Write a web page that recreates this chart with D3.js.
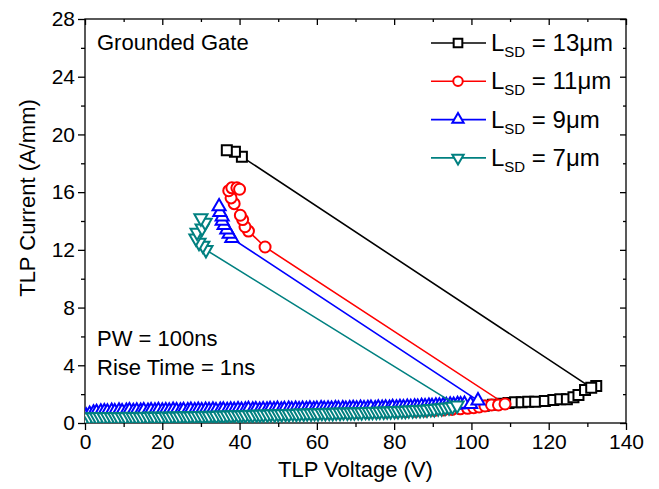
<!DOCTYPE html>
<html>
<head>
<meta charset="utf-8">
<script src="https://cdn.jsdelivr.net/npm/d3@7"></script>
<style>
body { margin: 0; background: #fff; }
text { font-family: "Liberation Sans", Arial, sans-serif; }
</style>
</head>
<body>
<script>
// tick values
var xTicks = [0, 20, 40, 60, 80, 100, 120, 140],
    xMinor = [10, 30, 50, 70, 90, 110, 130],
    yTicks = [0, 4, 8, 12, 16, 20, 24, 28],
    yMinor = [2, 6, 10, 14, 18, 22, 26];

// legend labels
var seriesNames = ['13\u03bcm', '11\u03bcm', '9\u03bcm', '7\u03bcm'];

// L_SD = 13um (squares)
var blackV = [0.4, 2.9, 5.3, 7.9, 10.2, 12.8, 15.1, 17.7, 20.0, 22.6,
    25.1, 27.5, 30.0, 32.4, 35.0, 37.3, 39.9, 42.2, 44.8, 47.1,
    49.7, 52.0, 54.6, 57.0, 59.5, 61.9, 64.4, 66.8, 69.3, 71.7,
    74.2, 76.6, 79.1, 81.5, 84.0, 86.3, 88.9, 91.2, 93.7, 96.1,
    98.5, 100.9, 103.2, 105.6, 107.8, 109.6, 111.3, 113.0, 114.7, 116.5,
    119.0, 121.2, 123.0, 124.7, 126.4, 127.7, 129.4, 132.3, 131.0, 40.6,
    38.8, 36.7];
var blackI = [0.36, 0.42, 0.45, 0.47, 0.49, 0.50, 0.52, 0.53, 0.55, 0.56,
    0.57, 0.58, 0.59, 0.60, 0.62, 0.63, 0.64, 0.65, 0.66, 0.67,
    0.68, 0.70, 0.71, 0.72, 0.73, 0.75, 0.76, 0.77, 0.79, 0.80,
    0.82, 0.83, 0.85, 0.87, 0.89, 0.91, 0.94, 0.97, 1.00, 1.04,
    1.08, 1.13, 1.19, 1.26, 1.33, 1.38, 1.43, 1.43, 1.48, 1.48,
    1.52, 1.59, 1.64, 1.64, 1.78, 1.94, 2.29, 2.56, 2.45, 18.45,
    18.8, 18.9];

// L_SD = 11um (circles)
var redV = [0.5, 3.0, 5.6, 8.1, 10.5, 13.1, 15.6, 18.0, 20.6, 23.1,
    25.5, 28.1, 30.6, 33.0, 35.6, 38.1, 40.5, 43.1, 45.6, 48.0,
    50.6, 53.1, 55.5, 58.1, 60.6, 63.0, 65.6, 68.1, 70.5, 73.1,
    75.6, 78.0, 80.6, 83.1, 85.5, 88.1, 90.4, 92.8, 95.0, 97.1,
    99.0, 100.6, 102.0, 103.5, 105.2, 107.0, 108.7,
    46.6, 42.3, 41.4, 40.8, 40.2, 38.6, 37.8, 37.2, 38.0, 39.3, 40.0];
var redI = [0.33, 0.39, 0.42, 0.44, 0.46, 0.47, 0.49, 0.50, 0.51, 0.52,
    0.53, 0.54, 0.55, 0.56, 0.57, 0.58, 0.59, 0.60, 0.61, 0.62,
    0.63, 0.64, 0.65, 0.66, 0.67, 0.68, 0.69, 0.70, 0.71, 0.72,
    0.74, 0.75, 0.77, 0.79, 0.81, 0.84, 0.87, 0.90, 0.94, 0.98,
    1.02, 1.06, 1.11, 1.18, 1.25, 1.25, 1.32,
    12.2, 13.3, 13.6, 14.1, 14.4, 15.2, 15.6, 16.1, 16.3, 16.3, 16.2];

// L_SD = 9um (up triangles)
var blueV = [0.3, 1.2, 2.2, 3.0, 4.1, 5.0, 5.8, 6.9, 7.7, 8.8,
    9.6, 10.7, 11.5, 12.5, 13.4, 14.4, 15.2, 16.3, 17.1, 18.1,
    19.0, 20.0, 20.9, 21.8, 22.8, 23.7, 24.7, 25.5, 26.6, 27.4,
    28.4, 29.3, 30.2, 31.2, 32.1, 33.1, 33.9, 35.0, 35.8, 36.8,
    37.7, 38.6, 39.6, 40.5, 41.5, 42.3, 43.4, 44.2, 45.2, 46.1,
    47.1, 47.9, 48.9, 49.8, 50.8, 51.6, 52.7, 53.5, 54.5, 55.4,
    56.3, 57.3, 58.2, 59.2, 60.0, 61.1, 61.9, 62.9, 63.8, 64.8,
    65.6, 66.7, 67.5, 68.5, 69.4, 70.3, 71.3, 72.2, 73.2, 74.0,
    75.1, 75.9, 76.9, 77.8, 78.8, 79.6, 80.6, 81.5, 82.4, 83.4,
    84.3, 85.3, 86.1, 87.1, 88.0, 89.0, 89.8, 90.8, 91.7, 92.7,
    93.5, 94.5, 95.4, 96.4, 97.2, 98.2, 99.8, 101.7,
    38.0, 37.3, 36.7, 36.0, 35.5, 35.5, 34.9, 34.7];
var blueI = [0.50, 0.62, 0.70, 0.74, 0.78, 0.80, 0.77, 0.82, 0.79, 0.84,
    0.80, 0.83, 0.86, 0.81, 0.85, 0.82, 0.86, 0.83, 0.87, 0.84,
    0.88, 0.84, 0.87, 0.85, 0.89, 0.86, 0.84, 0.88, 0.86, 0.90,
    0.87, 0.89, 0.86, 0.90, 0.88, 0.91, 0.87, 0.90, 0.92, 0.88,
    0.91, 0.89, 0.93, 0.90, 0.92, 0.95, 0.91, 0.93, 0.90, 0.94,
    0.92, 0.95, 0.93, 0.96, 0.92, 0.95, 0.97, 0.94, 0.96, 0.93,
    0.97, 0.95, 0.98, 0.95, 0.97, 1.00, 0.96, 0.99, 0.97, 1.00,
    0.98, 1.01, 0.97, 1.00, 1.02, 0.99, 1.03, 1.00, 1.02, 1.04,
    1.01, 1.05, 1.03, 1.06, 1.04, 1.08, 1.06, 1.09, 1.07, 1.11,
    1.09, 1.13, 1.11, 1.15, 1.14, 1.18, 1.16, 1.20, 1.19, 1.23,
    1.22, 1.26, 1.25, 1.29, 1.28, 1.32, 1.30, 1.55,
    12.8, 13.1, 13.4, 13.7, 14.0, 14.3, 14.6, 15.0];

// L_SD = 7um (down triangles)
var tealV = [0.2, 1.1, 2.1, 3.0, 3.9, 4.9, 5.8, 6.8, 7.7, 8.6,
    9.6, 10.5, 11.5, 12.4, 13.3, 14.3, 15.2, 16.2, 17.1, 18.0,
    19.0, 19.9, 20.9, 21.8, 22.7, 23.7, 24.6, 25.6, 26.5, 27.4,
    28.4, 29.3, 30.3, 31.2, 32.1, 33.1, 34.0, 35.0, 35.9, 36.8,
    37.8, 38.7, 39.7, 40.6, 41.5, 42.5, 43.4, 44.4, 45.3, 46.2,
    47.2, 48.1, 49.1, 50.0, 50.9, 51.9, 52.8, 53.8, 54.7, 55.6,
    56.6, 57.5, 58.5, 59.4, 60.3, 61.3, 62.2, 63.2, 64.1, 65.0,
    66.0, 66.9, 67.9, 68.8, 69.7, 70.7, 71.6, 72.6, 73.5, 74.4,
    75.4, 76.3, 77.3, 78.2, 79.1, 80.1, 81.0, 82.0, 82.9, 83.8,
    84.8, 85.7, 86.7, 87.6, 88.5, 89.5, 90.4, 91.4, 92.3, 93.2,
    94.2, 95.1, 96.3,
    31.3, 30.5, 29.5, 28.7, 29.0, 30.3, 31.1, 30.0];
var tealI = [0.38, 0.40, 0.42, 0.41, 0.43, 0.42, 0.44, 0.42, 0.43, 0.41,
    0.44, 0.42, 0.45, 0.43, 0.44, 0.42, 0.45, 0.43, 0.46, 0.44,
    0.45, 0.43, 0.46, 0.44, 0.47, 0.45, 0.46, 0.48, 0.46, 0.49,
    0.47, 0.50, 0.48, 0.51, 0.49, 0.52, 0.50, 0.53, 0.51, 0.54,
    0.53, 0.55, 0.54, 0.56, 0.55, 0.58, 0.56, 0.59, 0.58, 0.60,
    0.59, 0.62, 0.60, 0.63, 0.62, 0.64, 0.63, 0.66, 0.64, 0.67,
    0.66, 0.68, 0.67, 0.69, 0.68, 0.71, 0.69, 0.72, 0.70, 0.73,
    0.72, 0.74, 0.73, 0.75, 0.74, 0.76, 0.75, 0.78, 0.77, 0.79,
    0.78, 0.80, 0.80, 0.82, 0.81, 0.84, 0.83, 0.86, 0.85, 0.88,
    0.88, 0.91, 0.90, 0.94, 0.94, 0.98, 0.98, 1.02, 1.03, 1.07,
    1.09, 1.14, 1.22,
    12.0, 12.3, 12.5, 12.8, 13.2, 13.5, 13.9, 14.2];


var width = 659, height = 489;
var plotL = 85, plotR = 626, plotT = 19, plotB = 423;

// scales
var x = d3.scaleLinear().domain([0, 140]).range([plotL, plotR]);
var y = d3.scaleLinear().domain([0, 28]).range([plotB, plotT]);

var svg = d3.select('body')
    .append('svg')
    .attr('width', width)
    .attr('height', height);

svg.append('defs').append('clipPath')
    .attr('id', 'plot')
    .append('rect')
    .attr('x', plotL).attr('y', plotT)
    .attr('width', plotR - plotL).attr('height', plotB - plotT);

// axes, major and minor ticks
function styleAxis(g) {
    g.select('.domain').remove();
    g.selectAll('line').attr('stroke', '#000').attr('stroke-width', 1.3);
    g.selectAll('text').attr('font-size', 21).attr('fill', '#000')
        .style('font-family', '"Liberation Sans", Arial, sans-serif');
}

svg.append('g').attr('transform', 'translate(0,' + plotB + ')')
    .call(d3.axisBottom(x).tickValues(xTicks).tickSize(7).tickPadding(4))
    .call(styleAxis);
svg.append('g').attr('transform', 'translate(0,' + plotB + ')')
    .call(d3.axisBottom(x).tickValues(xMinor).tickSize(4).tickFormat(''))
    .call(styleAxis);
svg.append('g').attr('transform', 'translate(' + plotL + ',0)')
    .call(d3.axisLeft(y).tickValues(yTicks).tickSize(7).tickPadding(3))
    .call(styleAxis);
svg.append('g').attr('transform', 'translate(' + plotL + ',0)')
    .call(d3.axisLeft(y).tickValues(yMinor).tickSize(4).tickFormat(''))
    .call(styleAxis);

// mirrored ticks on top and right, pointing in
svg.append('g').attr('transform', 'translate(0,' + plotT + ')')
    .call(d3.axisTop(x).tickValues(xTicks).tickSize(-6).tickFormat(''))
    .call(styleAxis);
svg.append('g').attr('transform', 'translate(0,' + plotT + ')')
    .call(d3.axisTop(x).tickValues(xMinor).tickSize(-3).tickFormat(''))
    .call(styleAxis);
svg.append('g').attr('transform', 'translate(' + plotR + ',0)')
    .call(d3.axisRight(y).tickValues(yTicks).tickSize(-6).tickFormat(''))
    .call(styleAxis);
svg.append('g').attr('transform', 'translate(' + plotR + ',0)')
    .call(d3.axisRight(y).tickValues(yMinor).tickSize(-3).tickFormat(''))
    .call(styleAxis);

svg.append('rect')
    .attr('x', plotL).attr('y', plotT)
    .attr('width', plotR - plotL).attr('height', plotB - plotT)
    .attr('fill', 'none').attr('stroke', '#000').attr('stroke-width', 1.3);

// axis titles
svg.append('text')
    .attr('x', (plotL + plotR) / 2).attr('y', 477)
    .attr('text-anchor', 'middle').attr('font-size', 22)
    .text('TLP Voltage (V)');
svg.append('text')
    .attr('transform', 'translate(35,198) rotate(-90)')
    .attr('text-anchor', 'middle').attr('font-size', 22)
    .text('TLP Current (A/mm)');

// markers
var shapes = [
    {type: d3.symbolSquare, size: 100, rot: 0},
    {type: d3.symbolCircle, size: 95, rot: 0},
    {type: d3.symbolTriangle, size: 74, rot: 0},
    {type: d3.symbolTriangle, size: 74, rot: 180}
];
var colors = ['#000000', '#ff0000', '#0000ff', '#008080'];

var line = d3.line()
    .x(function(d) { return x(d[0]); })
    .y(function(d) { return y(d[1]); });

var plot = svg.append('g').attr('clip-path', 'url(#plot)');

function drawSeries(vs, is, k) {
    var pts = d3.zip(vs, is);
    var g = plot.append('g');
    g.append('path').datum(pts)
        .attr('d', line)
        .attr('fill', 'none')
        .attr('stroke', colors[k])
        .attr('stroke-width', 1.6);
    g.selectAll('path.pt').data(pts).enter().append('path')
        .attr('class', 'pt')
        .attr('transform', function(d) {
            return 'translate(' + x(d[0]) + ',' + y(d[1]) + ') rotate(' + shapes[k].rot + ')';
        })
        .attr('d', d3.symbol().type(shapes[k].type).size(shapes[k].size))
        .attr('fill', '#fff')
        .attr('stroke', colors[k])
        .attr('stroke-width', 2);
}

drawSeries(blackV, blackI, 0);
drawSeries(redV, redI, 1);
drawSeries(blueV, blueI, 2);
drawSeries(tealV, tealI, 3);

// legend
var legend = svg.append('g');
seriesNames.forEach(function(name, k) {
    var ly = 43 + k * 38.3;
    legend.append('line')
        .attr('x1', 431).attr('x2', 486).attr('y1', ly).attr('y2', ly)
        .attr('stroke', colors[k]).attr('stroke-width', 1.6);
    legend.append('path')
        .attr('transform', 'translate(458,' + ly + ') rotate(' + shapes[k].rot + ')')
        .attr('d', d3.symbol().type(shapes[k].type).size(shapes[k].size * 0.75))
        .attr('fill', '#fff').attr('stroke', colors[k]).attr('stroke-width', 2);
    var t = legend.append('text')
        .attr('x', 491).attr('y', ly + 8)
        .attr('font-size', 24);
    t.append('tspan').text('L');
    t.append('tspan').attr('font-size', 15).attr('dy', 6).text('SD');
    t.append('tspan').attr('dy', -6).text(' = ' + name);
});

// annotations
svg.append('text').attr('x', 97).attr('y', 50).attr('font-size', 22).text('Grounded Gate');
svg.append('text').attr('x', 97).attr('y', 346).attr('font-size', 22).text('PW = 100ns');
svg.append('text').attr('x', 97).attr('y', 375).attr('font-size', 22).text('Rise Time = 1ns');
</script>
</body>
</html>
